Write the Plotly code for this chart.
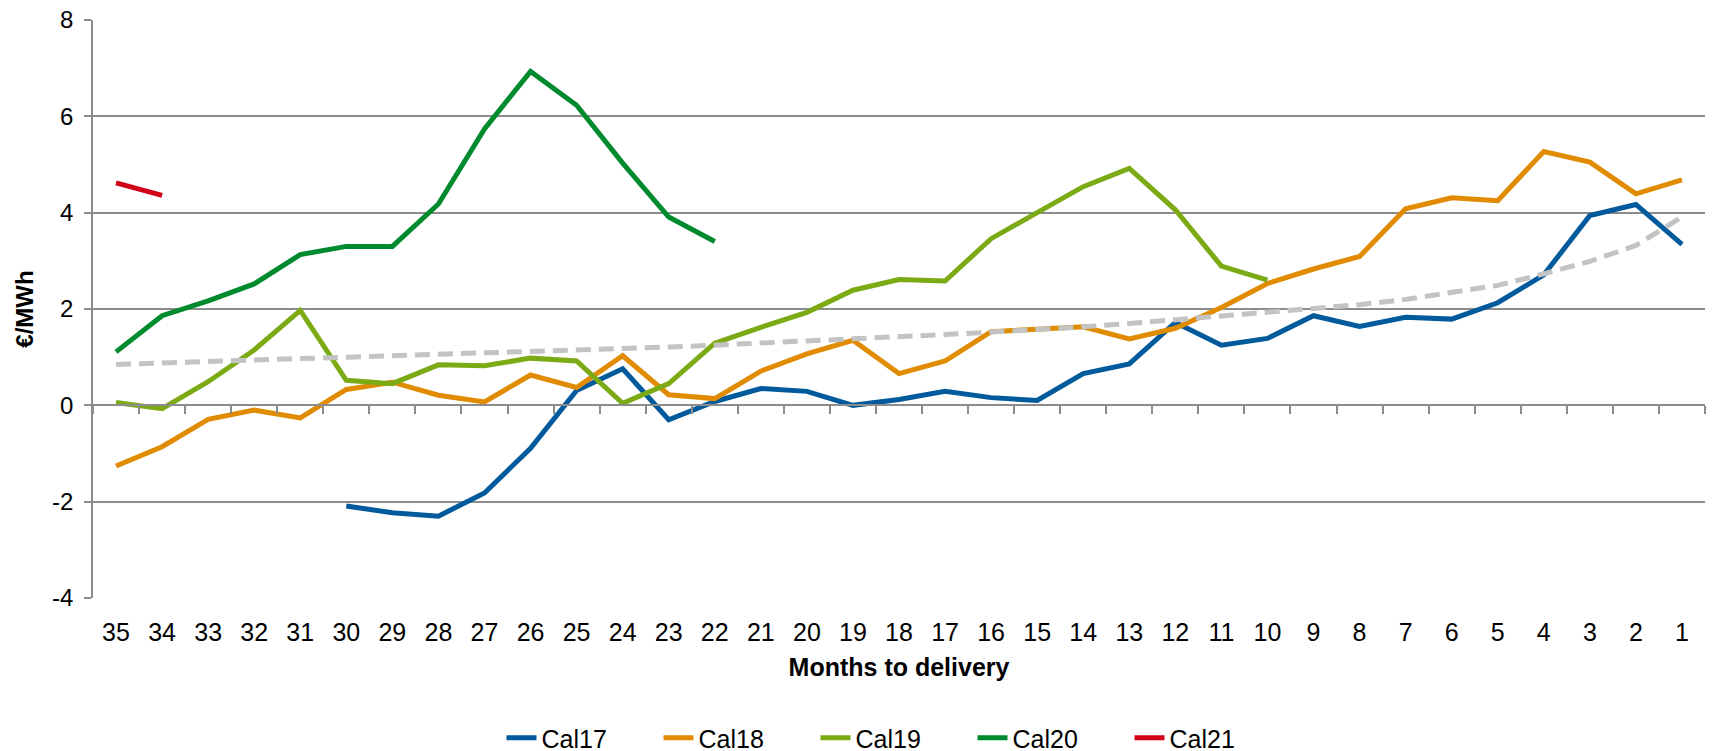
import plotly.graph_objects as go

categories = [str(m) for m in range(35, 0, -1)]

cal17 = [None] * 5 + [-2.09, -2.23, -2.30, -1.82, -0.89, 0.31, 0.76, -0.30, 0.08, 0.35,
                      0.29, 0.00, 0.12, 0.29, 0.16, 0.10, 0.66, 0.86, 1.72, 1.25,
                      1.39, 1.86, 1.64, 1.83, 1.79, 2.13, 2.71, 3.94, 4.17, 3.34]
cal18 = [-1.26, -0.86, -0.29, -0.10, -0.26, 0.33, 0.48, 0.21, 0.07, 0.63,
         0.37, 1.03, 0.22, 0.14, 0.71, 1.07, 1.35, 0.66, 0.92, 1.53,
         1.58, 1.63, 1.38, 1.60, 2.03, 2.53, 2.83, 3.09, 4.08, 4.31,
         4.25, 5.27, 5.05, 4.39, 4.68]
cal19 = [0.06, -0.07, 0.49, 1.15, 1.97, 0.52, 0.45, 0.84, 0.82, 0.98,
         0.92, 0.04, 0.45, 1.29, 1.62, 1.93, 2.39, 2.61, 2.58, 3.46,
         4.00, 4.54, 4.92, 4.06, 2.89, 2.60] + [None] * 9
cal20 = [1.11, 1.86, 2.17, 2.52, 3.13, 3.30, 3.30, 4.18, 5.74, 6.93,
         6.23, 5.03, 3.91, 3.40] + [None] * 21
cal21 = [4.62, 4.36] + [None] * 33
trend = [0.85, 0.88, 0.91, 0.94, 0.96, 0.98, 1.01, 1.04, 1.07, 1.10,
         1.13, 1.16, 1.21, 1.25, 1.29, 1.33, 1.37, 1.43, 1.47, 1.52,
         1.57, 1.63, 1.70, 1.78, 1.85, 1.93, 2.01, 2.09, 2.20, 2.34,
         2.49, 2.73, 2.99, 3.32, 3.91]

y_tickvals = [-4, -2, 0, 2, 4, 6, 8]
y_ticktext = ["-4", "-2", "0", "2", "4", "6", "8"]

series = [
    ("Cal17", cal17, "#005A9C"),
    ("Cal18", cal18, "#E08B00"),
    ("Cal19", cal19, "#7BAA14"),
    ("Cal20", cal20, "#008A2E"),
    ("Cal21", cal21, "#D00018"),
]

FONT = "Liberation Sans, Arial, sans-serif"
GRID = "#8C8C8C"

fig = go.Figure()
for name, vals, color in series:
    fig.add_trace(go.Scatter(x=categories, y=vals, name=name, mode="lines",
                             line=dict(color=color, width=5),
                             connectgaps=False, xaxis="x", yaxis="y"))

fig.add_trace(go.Scatter(x=categories, y=trend, name="trend", mode="lines",
                         line=dict(color="#C3C3C3", width=5, dash="15px,8px"),
                         showlegend=False, xaxis="x2", yaxis="y"))

fig.update_layout(
    width=1714, height=751,
    paper_bgcolor="white", plot_bgcolor="white",
    margin=dict(l=93, r=9, t=20, b=153, autoexpand=False),
    font=dict(family=FONT, size=24, color="black"),
    xaxis=dict(
        type="category", categoryorder="array", categoryarray=categories,
        range=[-0.5, 34.5], showgrid=False, zeroline=False, showline=False,
        ticks="outside", ticklen=12, tickcolor="rgba(0,0,0,0)",
        tickfont=dict(size=25, family=FONT),
        title=dict(text="<b>Months to delivery</b>", font=dict(size=25, family=FONT),
                   standoff=13),
    ),
    xaxis2=dict(
        type="category", categoryorder="array", categoryarray=categories,
        range=[-0.5, 34.5], overlaying="x", anchor="free", position=4 / 12,
        side="bottom", showgrid=False, zeroline=False, showline=True,
        linecolor=GRID, linewidth=1.5, ticks="outside", ticklen=8,
        tickcolor=GRID, tickwidth=1.5, tickson="boundaries",
        showticklabels=False,
    ),
    yaxis=dict(
        range=[-4, 8], tickvals=y_tickvals, ticktext=y_ticktext,
        showgrid=True, gridcolor=GRID,
        gridwidth=1.5, zeroline=False, showline=True, linecolor=GRID,
        linewidth=1.5, ticks="outside", ticklen=7, tickcolor=GRID, tickwidth=1.5,
        tickfont=dict(size=24, family=FONT), ticklabelstandoff=6,
        title=dict(text="<b>€/MWh</b>", font=dict(size=24, family=FONT), standoff=12),
    ),
    legend=dict(
        orientation="h", xref="container", yref="paper",
        x=0.5 + 37 / 1714, xanchor="center", y=-140 / 578, yanchor="middle",
        font=dict(size=25, family=FONT), entrywidth=112, entrywidthmode="pixels",
        bgcolor="rgba(0,0,0,0)",
    ),
)

fig.write_html(
    "out.html",
    config={"displayModeBar": False},
    post_script="document.body.style.margin='0';document.body.style.padding='0';",
)
